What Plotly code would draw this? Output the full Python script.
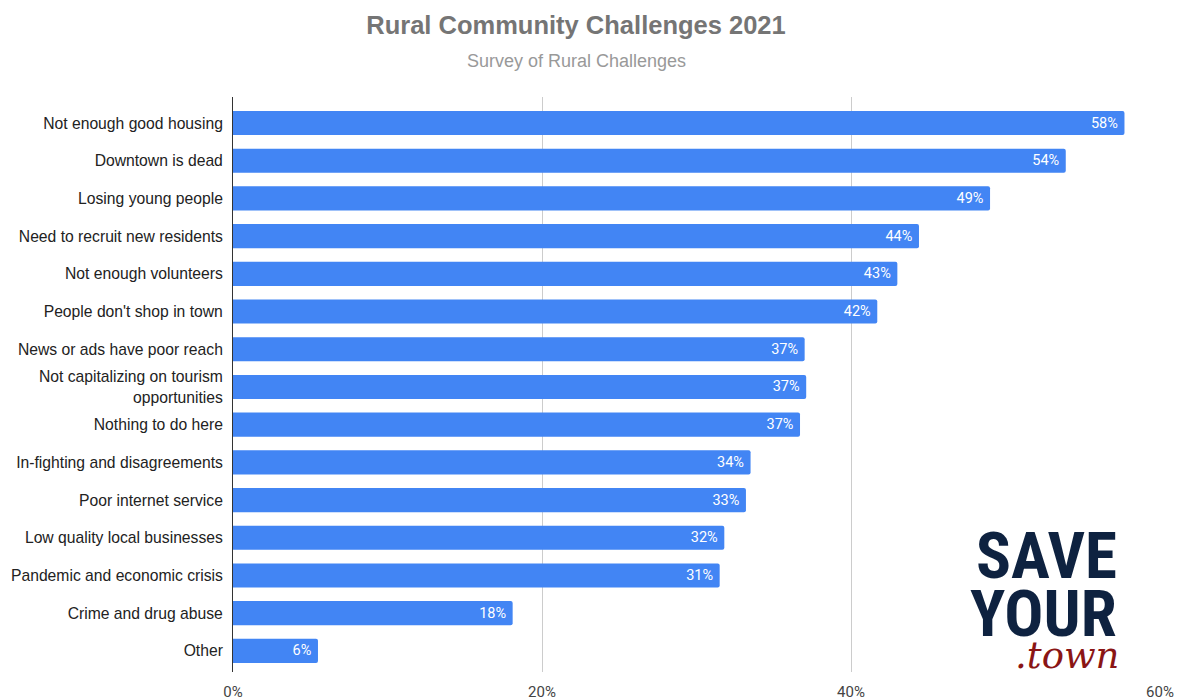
import plotly.graph_objects as go

categories = [
    "Not enough good housing",
    "Downtown is dead",
    "Losing young people",
    "Need to recruit new residents",
    "Not enough volunteers",
    "People don't shop in town",
    "News or ads have poor reach",
    "Not capitalizing on tourism<br>opportunities",
    "Nothing to do here",
    "In-fighting and disagreements",
    "Poor internet service",
    "Low quality local businesses",
    "Pandemic and economic crisis",
    "Crime and drug abuse",
    "Other",
]
values = [57.7, 53.9, 49.0, 44.4, 43.0, 41.7, 37.0, 37.1, 36.7, 33.5, 33.2, 31.8, 31.5, 18.1, 5.5]
labels = ["58%", "54%", "49%", "44%", "43%", "42%", "37%", "37%", "37%", "34%", "33%", "32%", "31%", "18%", "6%"]
tick_vals = [0, 20, 40, 60]
tick_text = ["0%", "20%", "40%", "60%"]

W, H = 1185, 700
L, R, T, B = 233, 25, 97, 28
pw, ph = W - L - R, H - T - B

def px(x):
    return (x - L) / pw

def py(y):
    return (H - B - y) / ph

fig = go.Figure(go.Bar(
    x=values, y=categories, orientation="h",
    marker=dict(color="#4285F4", line=dict(width=0)),
    width=0.64,
    text=labels, texttemplate="%{text}\u00a0", textposition="inside", insidetextanchor="end",
    insidetextfont=dict(color="white", size=14.5, family="Roboto, Arial, sans-serif"),
    textangle=0, cliponaxis=False,
    hoverinfo="skip",
))

fig.update_layout(
    width=W, height=H,
    margin=dict(l=L, r=R, t=T, b=B, autoexpand=False),
    paper_bgcolor="white", plot_bgcolor="white",
    font=dict(family="Liberation Sans, Arial, sans-serif", color="#222222", size=15.7),
    barcornerradius=2,
    uniformtext=dict(minsize=14, mode="show"),
    showlegend=False,
    title=dict(
        text="<b>Rural Community Challenges 2021</b>",
        font=dict(size=25.5, color="#757575", family="Liberation Sans, Arial, sans-serif"),
        xref="container", x=576 / W, xanchor="center",
        yref="container", y=1 - 25 / H, yanchor="middle",
    ),
)

fig.update_xaxes(
    range=[0, 60], tickvals=tick_vals, ticktext=tick_text,
    showgrid=True, gridcolor="#cccccc", gridwidth=1,
    zeroline=False, showline=False, ticks="",
    tickfont=dict(size=15, color="#444444", family="Roboto, Arial, sans-serif"),
    ticklabelstandoff=9, automargin=False, fixedrange=True,
)
fig.update_yaxes(
    range=[14.56, -0.69],
    showgrid=False, zeroline=False,
    showline=True, linecolor="#333333", linewidth=1,
    ticks="", ticklabelstandoff=6, automargin=False,
    tickfont=dict(size=15.7, color="#222222"),
    fixedrange=True,
)

fig.add_annotation(
    text="Survey of Rural Challenges", xref="paper", yref="paper",
    x=px(576), y=py(61), xanchor="center", yanchor="middle", showarrow=False,
    font=dict(size=18, color="#999999", family="Liberation Sans, Arial, sans-serif"),
)

logo_font = "Liberation Sans Narrow, Roboto Condensed, Roboto, Arial, sans-serif"
fig.add_annotation(
    text="<b>SAVE</b>", xref="paper", yref="paper",
    x=px(1119), y=py(556), xanchor="right", yanchor="middle", showarrow=False,
    font=dict(size=65, color="#0e2240", family=logo_font),
)
fig.add_annotation(
    text="<b>YOUR</b>", xref="paper", yref="paper",
    x=px(1119), y=py(614), xanchor="right", yanchor="middle", showarrow=False,
    font=dict(size=65, color="#0e2240", family=logo_font),
)
fig.add_annotation(
    text="<i>.town</i>", xref="paper", yref="paper",
    x=px(1121), y=py(655), xanchor="right", yanchor="middle", showarrow=False,
    font=dict(size=37, color="#8a1515", family="DejaVu Serif, Liberation Serif, serif"),
)

fig.write_html("out.html")
